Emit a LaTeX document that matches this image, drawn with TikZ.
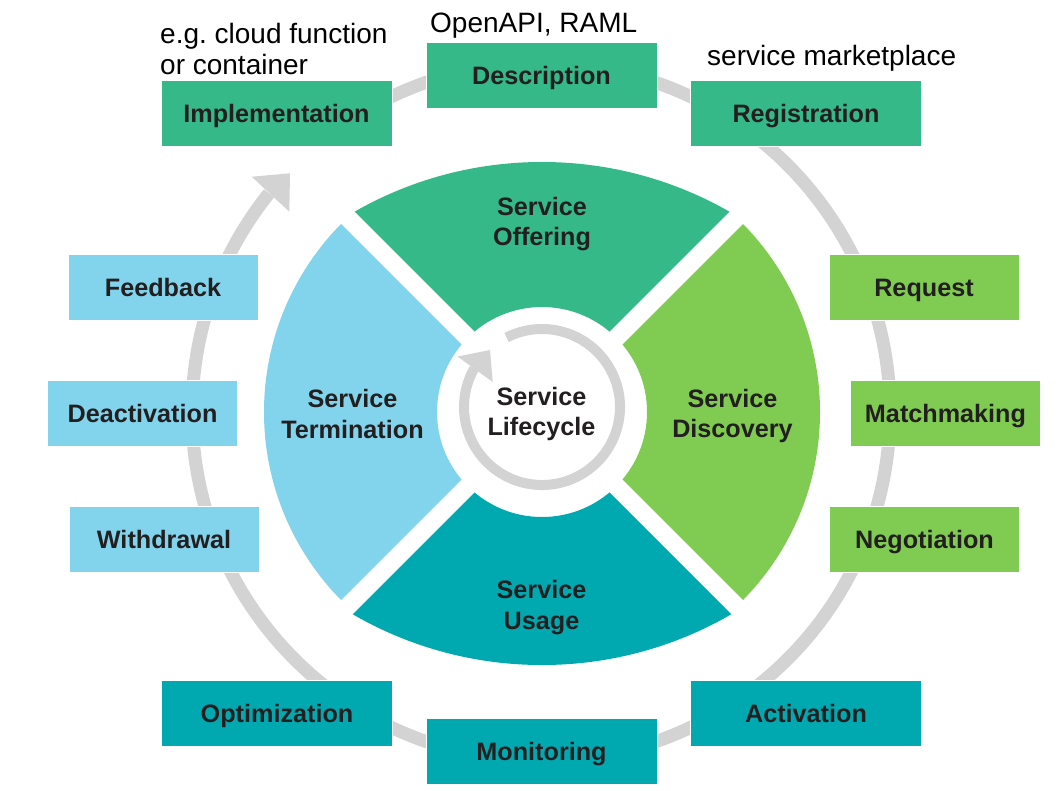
\documentclass[tikz,border=0pt]{standalone}
\usepackage{fontspec}
\setmainfont{Liberation Sans}
\frenchspacing
\definecolor{cOff}{RGB}{53,185,136}
\definecolor{cDis}{RGB}{128,204,82}
\definecolor{cUse}{RGB}{0,169,176}
\definecolor{cTer}{RGB}{129,212,236}
\definecolor{cRing}{RGB}{211,211,211}
\definecolor{cTxt}{RGB}{35,31,32}
\begin{document}
\begin{tikzpicture}[x=1pt,y=-1pt,
  box/.style={rectangle, draw=white, line width=1pt, minimum height=66pt, inner sep=0pt,
    text height=18pt, text depth=0pt, text=cTxt, font=\fontsize{25.2}{30}\selectfont\bfseries},
  wide/.style={box, minimum width=231pt},
  side/.style={box, minimum width=190pt},
  seclabel/.style={align=center, inner sep=0pt, text=cTxt, font=\fontsize{25.2}{30.5}\selectfont\bfseries},
  note/.style={anchor=base west, inner sep=0pt, text=black, font=\fontsize{28}{32}\selectfont},
  ring/.style={draw=cRing, line width=13pt},
  innerring/.style={draw=cRing, line width=10pt}]
\fill[white] (0,0) rectangle (1064,790);
\useasboundingbox (0,0) rectangle (1064,790);

% outer cycle ring with arrow head
\coordinate (C) at (541,412);
\draw[ring] (C) ++(237:349) arc[start angle=237, end angle=578.8, radius=349];
\fill[cRing] (251.7,176.7) -- (290,173.3) -- (289.3,211.7) -- cycle;

% phase boxes
\node[wide, fill=cOff] (impl) at (276.5,113.5) {Implementation};
\node[wide, fill=cOff] (desc) at (541.5,75) {Description};
\node[wide, fill=cOff] (reg) at (806,113.5) {Registration};
\node[side, fill=cTer] (fb) at (163,287) {Feedback};
\node[side, fill=cTer] (deact) at (142.5,413) {Deactivation};
\node[side, fill=cTer] (wd) at (164,539) {Withdrawal};
\node[wide, fill=cUse] (opt) at (277,713.5) {Optimization};
\node[wide, fill=cUse] (mon) at (541.5,751.5) {Monitoring};
\node[wide, fill=cUse] (act) at (806,713.5) {Activation};
\node[side, fill=cDis] (req) at (924,287) {Request};
\node[side, fill=cDis] (mm) at (945.5,413) {Matchmaking};
\node[side, fill=cDis] (neg) at (924.5,539) {Negotiation};

% sectors
\begin{scope}
  \clip (542,399) -- (92,-51) -- (992,-51) -- cycle;
  \fill[cOff, even odd rule] (542,540) circle[radius=378] (542,412) circle[radius=105];
\end{scope}
\begin{scope}
  \clip (555,412) -- (1005,-38) -- (1005,862) -- cycle;
  \fill[cDis, even odd rule] (552,412) circle[radius=268] (542,412) circle[radius=105];
\end{scope}
\begin{scope}
  \clip (542,425) -- (92,875) -- (992,875) -- cycle;
  \fill[cUse, even odd rule] (542,287) circle[radius=378] (542,412) circle[radius=105];
\end{scope}
\begin{scope}
  \clip (529,412) -- (79,-38) -- (79,862) -- cycle;
  \fill[cTer, even odd rule] (532,412) circle[radius=268] (542,412) circle[radius=105];
\end{scope}

% inner ring with arrow head
\coordinate (IC) at (542,407);
\draw[innerring] (IC) ++(243:78) arc[start angle=243, end angle=569.7, radius=78];
\fill[cRing] (457.5,356.5) -- (490,350) -- (492.7,382) -- cycle;

% sector labels
\node[seclabel] (off) at (542,224) {Service\\Offering};
\node[seclabel] (dis) at (732.5,416) {Service\\Discovery};
\node[seclabel] (use) at (541.5,607.5) {Service\\Usage};
\node[seclabel] (ter) at (352.5,414) {Service\\Termination};
\node[seclabel] (lc) at (541.5,414) {Service\\Lifecycle};

% annotations
\node[note] (n1) at (160,43) {e.g. cloud function};
\node[note] (n2) at (160,74) {or container};
\node[note] (n3) at (430,32) {OpenAPI, RAML};
\node[note] (n4) at (707,65) {service marketplace};
\end{tikzpicture}
\end{document}
